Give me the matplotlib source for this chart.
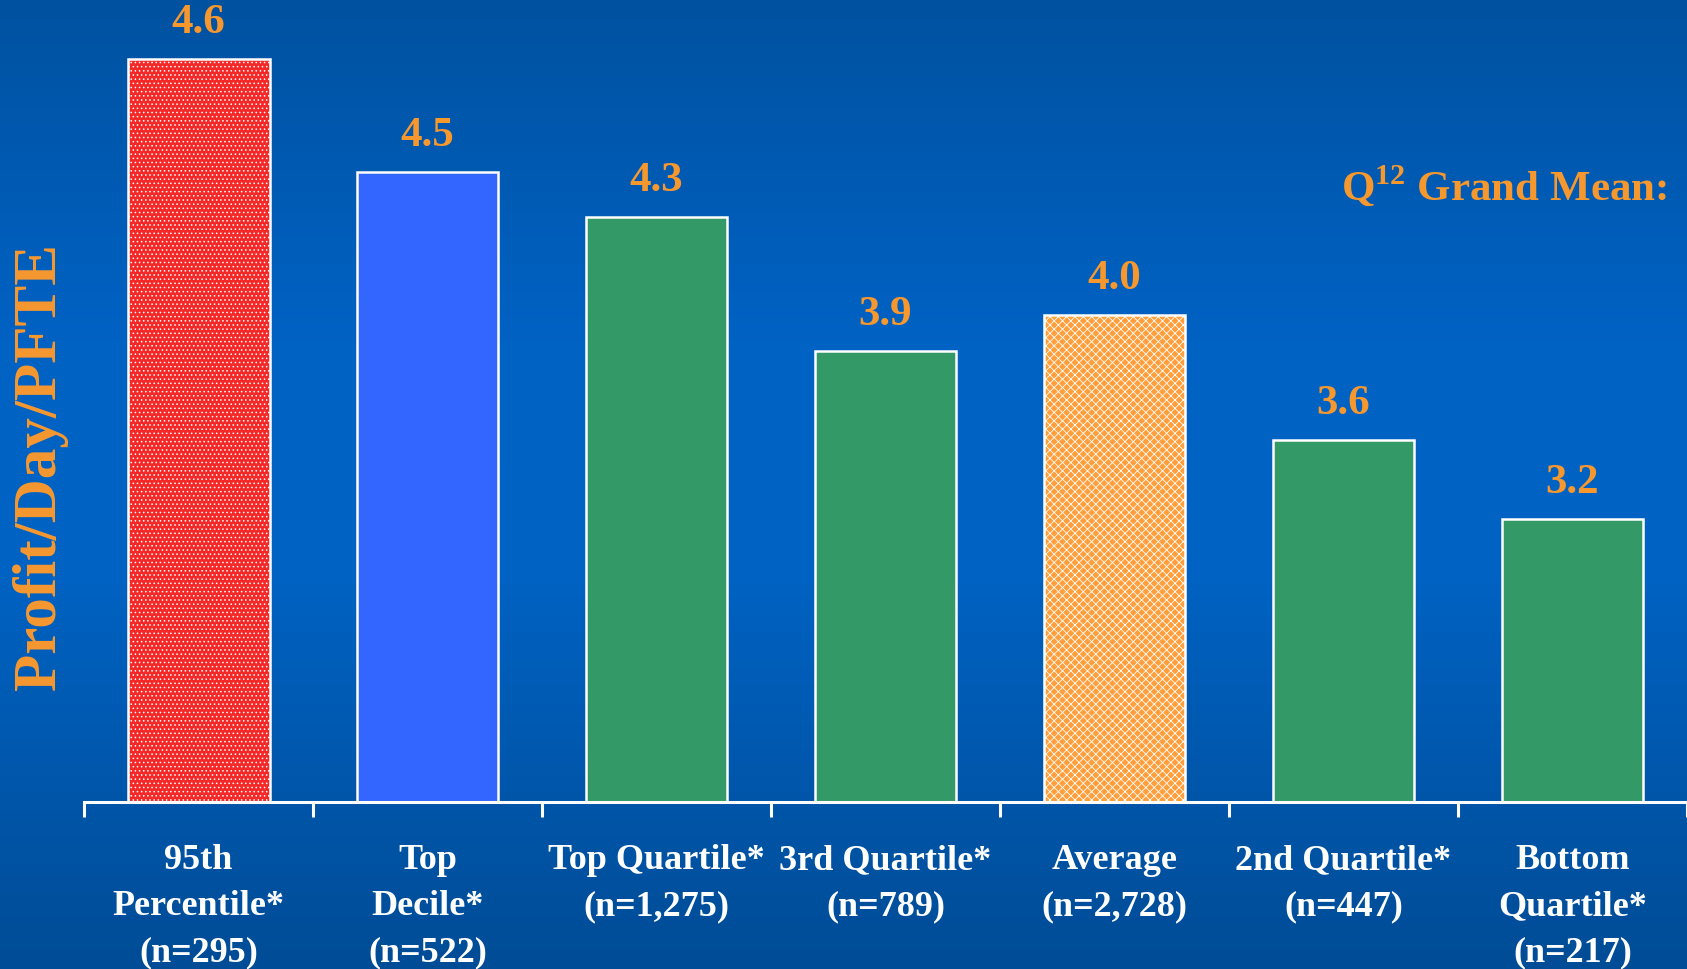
import numpy as np
import matplotlib.pyplot as plt
from matplotlib.colors import LinearSegmentedColormap

# data
categories = ["95th\nPercentile*\n(n=295)", "Top\nDecile*\n(n=522)",
              "Top Quartile*\n(n=1,275)", "3rd Quartile*\n(n=789)",
              "Average\n(n=2,728)", "2nd Quartile*\n(n=447)",
              "Bottom\nQuartile*\n(n=217)"]
values = [4.6, 4.5, 4.3, 3.9, 4.0, 3.6, 3.2]
# bar heights as drawn in the slide (not to scale with the values)
bar_heights = [7.43, 6.30, 5.85, 4.51, 4.87, 3.62, 2.83]

colors = ["#F52828", "#3366FF", "#339966", "#339966", "#FF9E3A", "#339966", "#339966"]
hatches = ["....", None, None, None, "xxxx", None, None]

orange = "#F7982F"
plt.rcParams['font.family'] = ['Liberation Serif', 'DejaVu Serif']
plt.rcParams['font.weight'] = 'bold'
plt.rcParams['mathtext.fontset'] = 'custom'
plt.rcParams['mathtext.rm'] = 'Liberation Serif:bold'
plt.rcParams['mathtext.bf'] = 'Liberation Serif:bold'
plt.rcParams['hatch.linewidth'] = 0.6

fig = plt.figure(figsize=(16.87, 9.69), dpi=100)

# background gradient
bg = fig.add_axes([0, 0, 1, 1])
cmap = LinearSegmentedColormap.from_list("bg", [(0.0, "#0052A0"), (0.35, "#0062C4"),
                                                (0.6, "#0062C2"), (1.0, "#004C96")])
bg.imshow(np.linspace(0, 1, 256).reshape(-1, 1), aspect='auto', cmap=cmap,
          extent=[0, 1, 0, 1], origin='upper')
bg.set_axis_off()

ax = fig.add_axes([0.0498, 0.1723, 0.9502, 0.8277])
ax.patch.set_alpha(0)
x = np.arange(len(categories))
bars = ax.bar(x, bar_heights, width=0.62, color=colors, edgecolor='white', linewidth=1.8)
for b, h in zip(bars, hatches):
    if h:
        b.set_hatch(h)

for xi, h, v in zip(x, bar_heights, values):
    ax.text(xi, h + 0.17, f"{v:.1f}", ha='center', va='bottom', color=orange,
            fontsize=31, fontweight='bold')

ax.set_xlim(-0.5, 6.5)
ax.set_ylim(0, 8.02)
ax.set_yticks([])
for s in ['top', 'right', 'left']:
    ax.spines[s].set_visible(False)
ax.spines['bottom'].set_color('white')
ax.spines['bottom'].set_linewidth(2.2)

ax.set_xticks(np.arange(-0.5, 7, 1))
ax.set_xticklabels([])
ax.tick_params(axis='x', colors='white', length=11, width=2.2, direction='out')
for xi, lab in zip(x, categories):
    ax.text(xi, -0.42, lab, ha='center', va='top', color='white', fontsize=26,
            fontweight='bold', linespacing=1.53)

fig.text(0.024, 0.519, "Profit/Day/PFTE", rotation=90, ha='center', va='center',
         color=orange, fontsize=44, fontweight='bold')
fig.text(0.988, 0.808, r"Q$^{12}$ Grand Mean:", ha='right', va='center',
         color=orange, fontsize=31, fontweight='bold')

fig.savefig("out.png", dpi=100)
